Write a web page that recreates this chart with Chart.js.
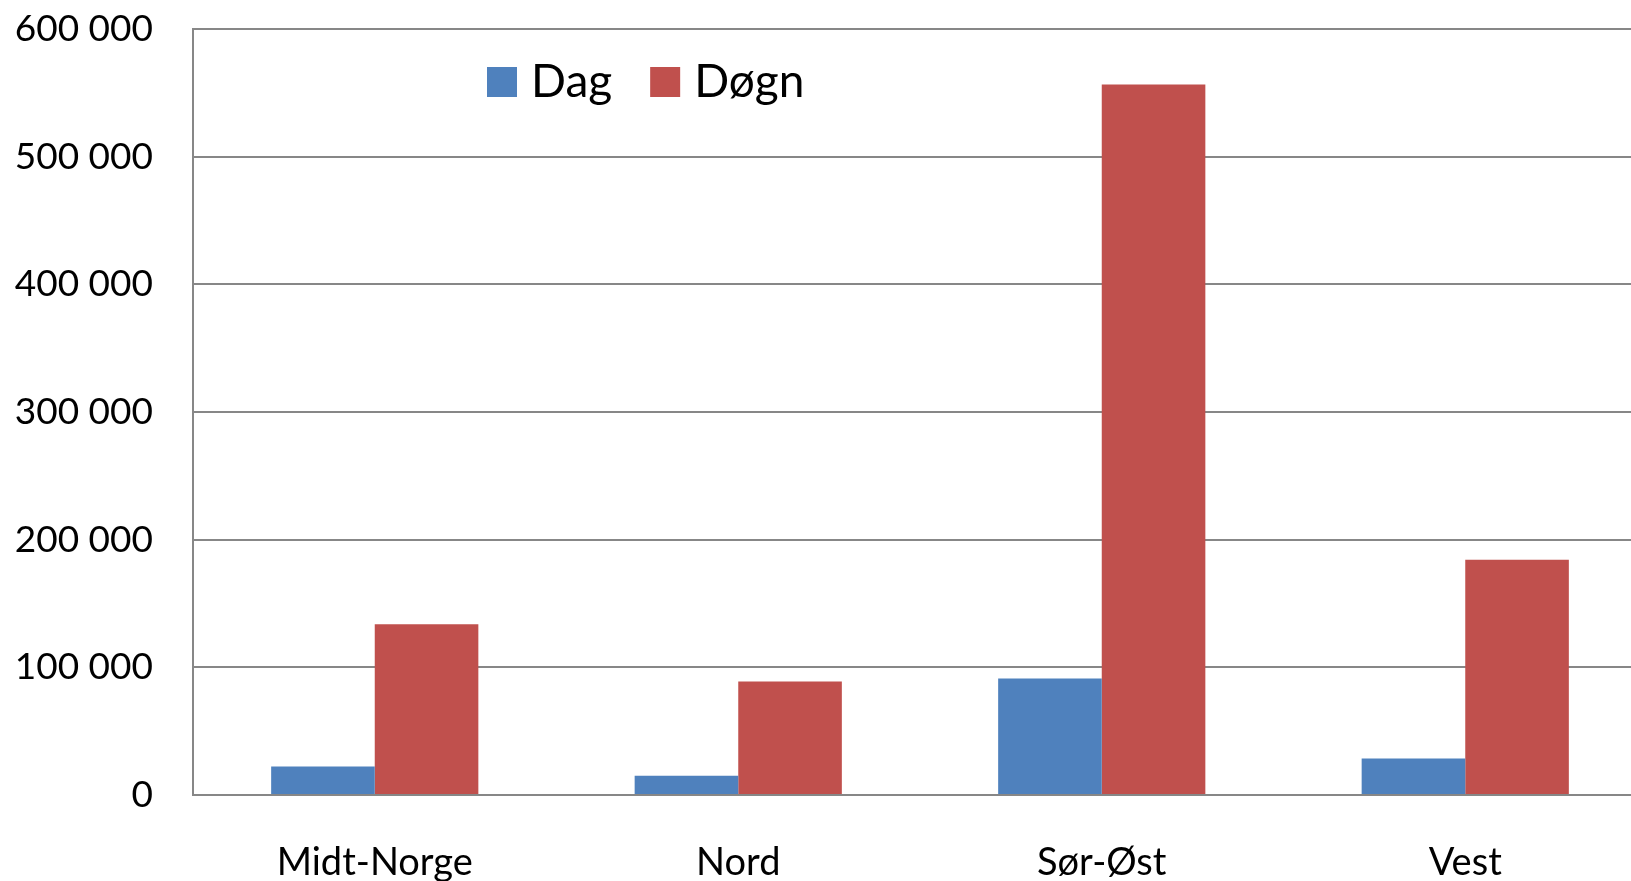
<!DOCTYPE html>
<html>
<head>
<meta charset="utf-8">
<script src="https://cdn.jsdelivr.net/npm/chart.js@4"></script>
<style>
  html, body { margin: 0; padding: 0; background: #fff; overflow: hidden; }
  #wrap { width: 1660px; height: 881px; }
</style>
</head>
<body>
<div id="wrap"><canvas id="chart" width="1660" height="881"></canvas></div>
<script>
const regions = ["Midt-Norge", "Nord", "Sør-Øst", "Vest"];
const dag = [22300, 15000, 91200, 28600];
const dogn = [133700, 89000, 556500, 184200];
const yTicks = [0, 100000, 200000, 300000, 400000, 500000, 600000];

const BLUE = "#4F81BD";
const RED = "#C0504D";
const GRID = "#878787";
const FONT = "Lato, 'Open Sans', sans-serif";

// legend drawn inside the plot, like the original
const innerLegend = {
  id: "innerLegend",
  afterDraw(chart) {
    const c = chart.ctx;
    c.save();
    c.font = `46px ${FONT}`;
    c.textBaseline = "middle";
    let x = 487;
    const y = 82;
    chart.data.datasets.forEach((ds) => {
      c.fillStyle = ds.backgroundColor;
      c.fillRect(x, y - 15, 30, 30);
      c.fillStyle = "#000";
      c.fillText(ds.label, x + 44, y);
      x += 44 + c.measureText(ds.label).width + 38;
    });
    c.restore();
  },
};

new Chart(document.getElementById("chart").getContext("2d"), {
  type: "bar",
  data: {
    labels: regions,
    datasets: [
      { label: "Dag", data: dag, backgroundColor: BLUE },
      { label: "Døgn", data: dogn, backgroundColor: RED },
    ],
  },
  options: {
    responsive: false,
    animation: false,
    layout: { padding: { top: 29, right: 13, left: 0, bottom: 0 } },
    datasets: { bar: { categoryPercentage: 0.57, barPercentage: 1 } },
    plugins: { legend: { display: false }, tooltip: { enabled: false } },
    scales: {
      x: {
        grid: { display: false, drawTicks: false },
        border: { color: GRID, width: 2 },
        ticks: { font: { family: FONT, size: 38 }, color: "#000", padding: 45 },
        afterFit: (s) => { s.height = 86; s.paddingLeft = 0; s.paddingRight = 0; },
      },
      y: {
        min: 0,
        max: 600000,
        afterBuildTicks: (s) => { s.ticks = yTicks.map((v) => ({ value: v })); },
        grid: { color: GRID, lineWidth: 2, drawTicks: false },
        border: { color: GRID, width: 2 },
        ticks: {
          font: { family: FONT, size: 37 },
          color: "#000",
          padding: 40,
          callback: (v) => String(v).replace(/\B(?=(\d{3})+(?!\d))/g, " "),
        },
        afterFit: (s) => { s.width = 193; s.paddingTop = 0; s.paddingBottom = 0; },
      },
    },
  },
  plugins: [innerLegend],
});
</script>
</body>
</html>
